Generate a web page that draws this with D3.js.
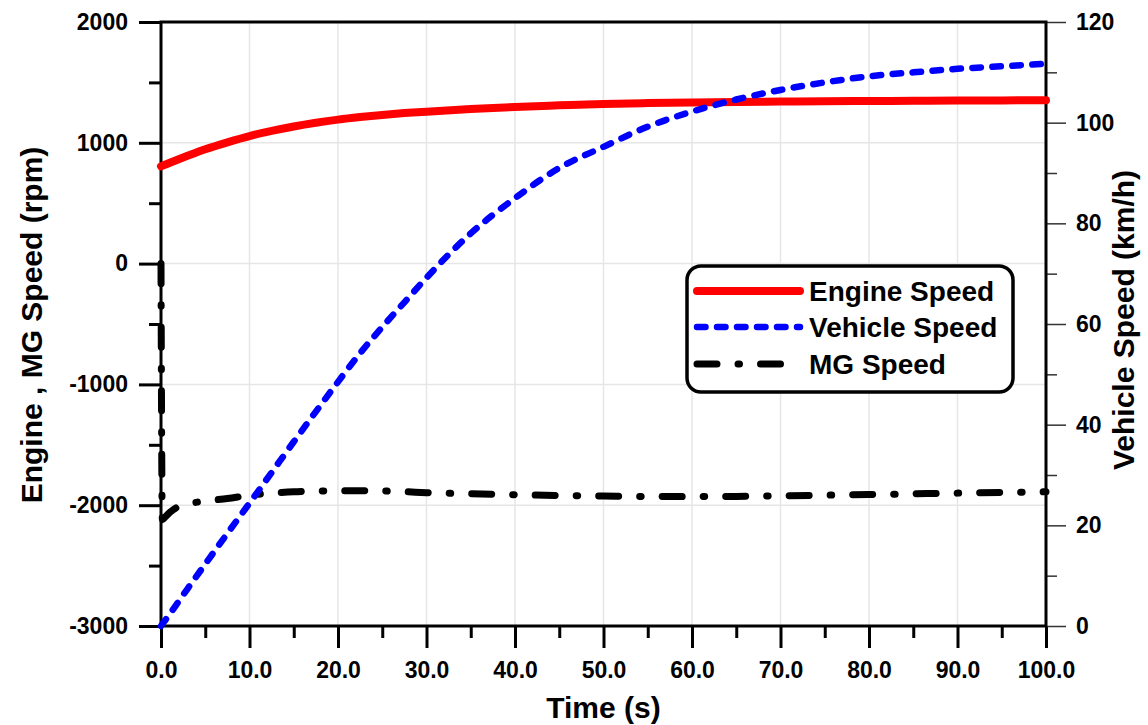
<!DOCTYPE html>
<html lang="en">
	<head>
		<meta charset="utf-8">
		<title>Engine, MG and vehicle speed</title>
		<script src="https://cdnjs.cloudflare.com/ajax/libs/d3/7.8.5/d3.min.js"></script>
		<style type="text/css">
			body { margin: 0; background: #fff; }
			svg text { font-family: "Liberation Sans", Arial, Helvetica, sans-serif; }
			.tick text { font-family: "Liberation Sans", Arial, Helvetica, sans-serif; font-size: 23px; font-weight: bold; fill: #000; }
			.title { font-size: 30px; font-weight: bold; fill: #000; }
			.legend text { font-size: 28px; font-weight: bold; fill: #000; }
		</style>
	</head>
	<body>
		<div id="container"></div>
		<script type="text/javascript">

			// data
			var time = [0, 0.15, 0.5, 1, 2, 3, 5, 7.5, 10, 12.5, 15, 17.5, 20, 22.5, 25, 27.5, 30,
				35, 40, 45, 50, 55, 60, 65, 70, 75, 80, 85, 90, 95, 100];
			var engineSpeed = [805, 809.5, 820, 835, 864, 892, 946, 1004, 1056, 1098, 1135, 1166, 1192, 1213, 1231, 1246, 1258,
				1280, 1297, 1310, 1322, 1329, 1334, 1338, 1341, 1344, 1346, 1348, 1350, 1351, 1352];
			var vehicleSpeed = [0, 0.4, 1.2, 2.4, 4.9, 7.4, 12.3, 18.4, 24.4, 30.5, 36.6, 42.6, 48.5, 54.2, 59.4, 64.3, 69.2,
				78, 85, 91, 95.2, 99.2, 102.2, 104.6, 106.5, 108, 109.2, 110, 110.7, 111.2, 111.7];
			var mgSpeed = [0, -2120, -2095, -2060, -2010, -1990, -1965, -1945, -1917, -1900, -1888, -1883, -1880, -1880, -1882, -1888, -1896,
				-1905, -1913, -1920, -1924, -1928, -1929, -1927, -1922, -1917, -1912, -1906, -1900, -1895, -1889];

			var xTicks = [0, 10, 20, 30, 40, 50, 60, 70, 80, 90, 100];
			var xMinor = [5, 15, 25, 35, 45, 55, 65, 75, 85, 95];
			var yLeftTicks = [2000, 1000, 0, -1000, -2000, -3000];
			var yLeftMinor = [1500, 500, -500, -1500, -2500];
			var yRightTicks = [0, 20, 40, 60, 80, 100, 120];
			var yRightMinor = [10, 30, 50, 70, 90, 110];

			var seriesNames = ["Engine Speed", "Vehicle Speed", "MG Speed"];

			//Width and height
			var width = 1148;
			var height = 725;
			var pLeft = 161, pRight = 1046, pTop = 22, pBottom = 626;

			var svg = d3.select("div#container")
				.append("svg")
				.attr("width", width)
				.attr("height", height);

			var x = d3.scaleLinear().domain([0, 100]).range([pLeft, pRight]);
			var yL = d3.scaleLinear().domain([-3000, 2000]).range([pBottom, pTop]);
			var yR = d3.scaleLinear().domain([0, 120]).range([pBottom, pTop]);

			// grid
			var grid = svg.append("g").attr("class", "grid")
				.attr("stroke", "#e6e6e6")
				.attr("stroke-width", 1.5);
			grid.selectAll("line.v")
				.data(xTicks.slice(1, -1))
				.enter().append("line")
					.attr("class", "v")
					.attr("x1", function(d) { return x(d); })
					.attr("x2", function(d) { return x(d); })
					.attr("y1", pTop)
					.attr("y2", pBottom);
			grid.selectAll("line.h")
				.data(yLeftTicks.slice(1, -1))
				.enter().append("line")
					.attr("class", "h")
					.attr("x1", pLeft)
					.attr("x2", pRight)
					.attr("y1", function(d) { return yL(d); })
					.attr("y2", function(d) { return yL(d); });

			// axes
			function styleAxis(g, w, col) {
				g.select(".domain").remove();
				g.selectAll(".tick line").attr("stroke", col).attr("stroke-width", w);
			}
			// plain hyphen for negatives, like the original
			var intFmt = function(d) { return String(d); };

			svg.append("g")
				.attr("transform", "translate(" + pLeft + ",0)")
				.call(d3.axisLeft(yL).tickValues(yLeftMinor).tickSize(12).tickFormat(""))
				.call(styleAxis, 3, "#000");
			svg.append("g")
				.attr("transform", "translate(" + pLeft + ",0)")
				.call(d3.axisLeft(yL).tickValues(yLeftTicks).tickSize(22).tickPadding(11).tickFormat(intFmt))
				.call(styleAxis, 3, "#000");

			svg.append("g")
				.attr("transform", "translate(0," + pBottom + ")")
				.call(d3.axisBottom(x).tickValues(xMinor).tickSize(12).tickFormat(""))
				.call(styleAxis, 3, "#000");
			svg.append("g")
				.attr("transform", "translate(0," + pBottom + ")")
				.call(d3.axisBottom(x).tickValues(xTicks).tickSize(22).tickPadding(14).tickFormat(d3.format(".1f")))
				.call(styleAxis, 3, "#000");

			svg.append("g")
				.attr("transform", "translate(" + pRight + ",0)")
				.call(d3.axisRight(yR).tickValues(yRightMinor).tickSize(11).tickFormat(""))
				.call(styleAxis, 1.5, "#333");
			svg.append("g")
				.attr("transform", "translate(" + pRight + ",0)")
				.call(d3.axisRight(yR).tickValues(yRightTicks).tickSize(20).tickPadding(10).tickFormat(intFmt))
				.call(styleAxis, 1.5, "#333");

			// frame
			svg.append("rect")
				.attr("x", pLeft)
				.attr("y", pTop)
				.attr("width", pRight - pLeft)
				.attr("height", pBottom - pTop)
				.attr("fill", "none")
				.attr("stroke", "#000")
				.attr("stroke-width", 3);

			// lines
			var styles = [
				{ color: "#ff0000", width: 8, dash: null },
				{ color: "#0000ff", width: 6.5, dash: "8.5,11.5" },
				{ color: "#000000", width: 7, dash: "20,21,1.5,21" }
			];

			var engineLine = d3.line()
				.x(function(d, i) { return x(time[i]); })
				.y(function(d) { return yL(d); })
				.curve(d3.curveMonotoneX);
			var vehicleLine = d3.line()
				.x(function(d, i) { return x(time[i]); })
				.y(function(d) { return yR(d); })
				.curve(d3.curveMonotoneX);

			function drawLine(data, gen, s) {
				svg.append("path")
					.datum(data)
					.attr("d", gen)
					.attr("fill", "none")
					.attr("stroke", s.color)
					.attr("stroke-width", s.width)
					.attr("stroke-linecap", "round")
					.attr("stroke-linejoin", "round")
					.attr("stroke-dasharray", s.dash);
			}
			drawLine(engineSpeed, engineLine, styles[0]);
			drawLine(mgSpeed, engineLine, styles[2]);
			drawLine(vehicleSpeed, vehicleLine, styles[1]);

			// titles
			svg.append("text")
				.attr("class", "title")
				.attr("x", (pLeft + pRight) / 2)
				.attr("y", 718)
				.attr("text-anchor", "middle")
				.text("Time (s)");
			svg.append("text")
				.attr("class", "title")
				.attr("transform", "translate(42,325) rotate(-90)")
				.attr("text-anchor", "middle")
				.text("Engine , MG Speed (rpm)");
			svg.append("text")
				.attr("class", "title")
				.attr("transform", "translate(1134,320) rotate(-90)")
				.attr("text-anchor", "middle")
				.text("Vehicle Speed (km/h)");

			// legend
			var legend = svg.append("g").attr("class", "legend");
			legend.append("rect")
				.attr("x", 687)
				.attr("y", 266)
				.attr("width", 326)
				.attr("height", 126)
				.attr("rx", 14)
				.attr("fill", "#fff")
				.attr("stroke", "#000")
				.attr("stroke-width", 3.5);

			var rows = legend.selectAll("g.row")
				.data(seriesNames)
				.enter().append("g")
					.attr("class", "row")
					.attr("transform", function(d, i) { return "translate(0," + [291, 327, 364][i] + ")"; });
			rows.append("line")
				.attr("x1", 697)
				.attr("x2", 800)
				.attr("fill", "none")
				.attr("stroke", function(d, i) { return styles[i].color; })
				.attr("stroke-width", function(d, i) { return styles[i].width; })
				.attr("stroke-linecap", "round")
				.attr("stroke-dasharray", function(d, i) { return styles[i].dash; });
			rows.append("text")
				.attr("x", 809)
				.attr("y", 10)
				.text(function(d) { return d; });
		</script>
	</body>
</html>
